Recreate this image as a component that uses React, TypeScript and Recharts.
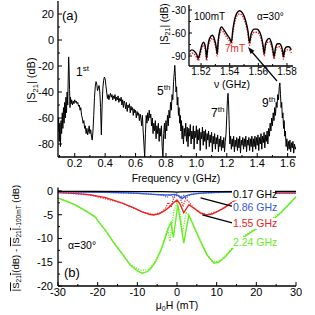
import React from 'react';
import { LineChart, Line, XAxis, YAxis, ReferenceLine } from 'recharts';

const FONT = '"Liberation Sans", Arial, Helvetica, sans-serif';

// ---------- Panel (a): |S21| spectrum [frequency GHz, dB] ----------
const spectrum: [number, number][] = [
  [0.090, -70], [0.094, -60], [0.098, -78], [0.102, -64], [0.106, -82], [0.110, -62], [0.114, -72], [0.118, -56],
  [0.122, -68], [0.126, -52], [0.130, -64], [0.134, -48], [0.138, -60], [0.142, -44], [0.146, -56], [0.150, -40],
  [0.154, -50], [0.157, -30], [0.160, -13], [0.163, -22], [0.166, -38], [0.169, -52], [0.172, -44], [0.176, -49],
  [0.180, -46], [0.185, -50], [0.190, -47], [0.195, -49], [0.200, -46], [0.205, -48], [0.210, -47], [0.215, -49],
  [0.220, -48], [0.225, -51], [0.230, -50], [0.235, -54], [0.240, -52], [0.245, -58], [0.250, -60], [0.255, -64],
  [0.260, -62], [0.265, -68], [0.270, -66], [0.275, -72], [0.280, -68], [0.285, -73], [0.290, -70], [0.295, -66],
  [0.300, -72], [0.305, -69], [0.310, -74], [0.315, -77], [0.320, -70], [0.325, -58], [0.330, -44], [0.335, -36],
  [0.340, -32], [0.345, -34], [0.350, -39], [0.355, -37], [0.360, -35], [0.365, -40], [0.370, -52], [0.375, -73],
  [0.380, -50], [0.385, -37], [0.390, -31], [0.395, -28.5], [0.400, -30], [0.405, -35], [0.410, -40], [0.415, -45],
  [0.420, -42], [0.425, -46], [0.430, -43], [0.435, -41], [0.440, -44], [0.445, -42], [0.450, -46], [0.455, -43],
  [0.460, -45], [0.465, -42], [0.470, -47], [0.475, -44], [0.480, -46], [0.485, -43], [0.490, -48], [0.495, -45],
  [0.500, -47], [0.505, -44], [0.510, -50], [0.515, -46], [0.520, -52], [0.525, -47], [0.530, -49], [0.535, -53],
  [0.540, -48], [0.545, -55], [0.550, -50], [0.555, -52], [0.560, -49], [0.565, -56], [0.570, -51], [0.575, -54],
  [0.580, -52], [0.585, -58], [0.590, -53], [0.595, -56], [0.600, -54], [0.605, -60], [0.610, -55], [0.615, -58],
  [0.620, -56], [0.625, -62], [0.630, -57], [0.635, -60], [0.640, -66], [0.645, -58], [0.650, -70], [0.655, -80],
  [0.660, -90], [0.665, -72], [0.670, -58], [0.675, -64], [0.680, -56], [0.685, -62], [0.690, -54], [0.695, -60],
  [0.700, -57], [0.705, -66], [0.710, -60], [0.715, -72], [0.720, -64], [0.725, -70], [0.730, -62], [0.735, -76],
  [0.740, -66], [0.745, -72], [0.750, -64], [0.755, -78], [0.760, -68], [0.765, -74], [0.770, -66], [0.775, -82],
  [0.780, -90], [0.785, -72], [0.790, -64], [0.795, -76], [0.800, -62], [0.805, -70], [0.810, -58], [0.815, -66],
  [0.820, -54], [0.825, -60], [0.830, -48], [0.835, -54], [0.840, -42], [0.845, -46], [0.850, -32], [0.854, -26],
  [0.858, -19.5], [0.862, -28], [0.866, -40], [0.870, -36], [0.874, -50], [0.878, -44], [0.882, -58], [0.886, -52],
  [0.890, -64], [0.894, -58], [0.898, -70], [0.902, -62], [0.906, -76], [0.910, -66], [0.915, -80], [0.920, -68],
  [0.925, -74], [0.930, -64], [0.935, -78], [0.940, -67], [0.945, -82], [0.950, -68], [0.955, -74], [0.960, -65],
  [0.965, -80], [0.970, -70], [0.975, -76], [0.980, -66], [0.985, -84], [0.990, -70], [0.995, -75], [1.000, -66],
  [1.005, -80], [1.010, -69], [1.015, -77], [1.020, -68], [1.025, -85], [1.030, -71], [1.035, -76], [1.040, -67],
  [1.045, -81], [1.050, -70], [1.055, -78], [1.060, -69], [1.065, -84], [1.070, -72], [1.075, -77], [1.080, -70],
  [1.085, -82], [1.090, -73], [1.095, -79], [1.100, -71], [1.105, -86], [1.110, -74], [1.115, -80], [1.120, -72],
  [1.125, -84], [1.130, -75], [1.135, -80], [1.140, -73], [1.145, -86], [1.150, -76], [1.155, -82], [1.160, -74],
  [1.165, -85], [1.170, -77], [1.175, -83], [1.180, -75], [1.185, -86], [1.190, -78], [1.195, -72], [1.200, -58],
  [1.204, -46], [1.208, -41], [1.212, -50], [1.216, -66], [1.220, -80], [1.225, -74], [1.230, -84], [1.235, -76],
  [1.240, -82], [1.245, -74], [1.250, -86], [1.255, -77], [1.260, -82], [1.265, -75], [1.270, -85], [1.275, -76],
  [1.280, -83], [1.285, -74], [1.290, -87], [1.295, -77], [1.300, -81], [1.305, -75], [1.310, -84], [1.315, -76],
  [1.320, -82], [1.325, -74], [1.330, -86], [1.335, -77], [1.340, -81], [1.345, -75], [1.350, -85], [1.355, -76],
  [1.360, -82], [1.365, -74], [1.370, -86], [1.375, -76], [1.380, -82], [1.385, -74], [1.390, -84], [1.395, -75],
  [1.400, -81], [1.405, -73], [1.410, -85], [1.415, -75], [1.420, -80], [1.425, -72], [1.430, -84], [1.435, -74],
  [1.440, -79], [1.445, -71], [1.450, -83], [1.455, -73], [1.460, -78], [1.465, -70], [1.470, -80], [1.475, -68],
  [1.480, -74], [1.485, -64], [1.490, -70], [1.495, -60], [1.500, -66], [1.505, -56], [1.510, -62], [1.515, -52],
  [1.520, -58], [1.525, -48], [1.530, -52], [1.535, -42], [1.540, -46], [1.545, -36], [1.549, -33], [1.553, -42],
  [1.557, -52], [1.561, -48], [1.565, -60], [1.569, -56], [1.573, -68], [1.577, -62], [1.581, -74], [1.585, -70],
  [1.590, -82], [1.595, -76], [1.600, -85], [1.605, -78], [1.610, -84], [1.615, -77], [1.620, -86], [1.625, -79],
  [1.630, -83], [1.635, -78], [1.640, -87], [1.645, -80], [1.650, -84], [1.655, -82],
];

// ---------- Inset: 9th harmonic zoom [GHz, dB] ----------
const inset100mT: [number, number][] = [
  [1.512, -84], [1.5136, -82], [1.5155, -84], [1.517, -88], [1.5181, -93], [1.5192, -86], [1.5205, -76], [1.5216, -72],
  [1.5228, -76], [1.5234, -84], [1.5239, -93], [1.5246, -80], [1.526, -67], [1.5278, -63], [1.5295, -69], [1.5305, -77],
  [1.5313, -87], [1.532, -70], [1.5332, -56], [1.5343, -52], [1.536, -56], [1.5385, -63], [1.54, -67], [1.5412, -72],
  [1.5422, -56], [1.5435, -42], [1.545, -34], [1.5469, -31], [1.549, -34], [1.551, -43], [1.5528, -58], [1.5538, -72],
  [1.555, -61], [1.5572, -55], [1.559, -55], [1.56, -56], [1.562, -64], [1.5633, -76], [1.5641, -87], [1.565, -74],
  [1.5665, -68], [1.5676, -67], [1.569, -72], [1.57, -80], [1.571, -91], [1.572, -79], [1.5735, -74], [1.575, -74],
  [1.5762, -78], [1.577, -84], [1.5775, -91], [1.5785, -81], [1.58, -78], [1.5814, -78], [1.583, -82],
];
const inset7mT: [number, number][] = [
  [1.512, -88], [1.5136, -86], [1.5155, -88], [1.517, -92], [1.5181, -96], [1.5192, -90], [1.5205, -80], [1.5216, -76],
  [1.5228, -80], [1.5234, -88], [1.5239, -96], [1.5246, -84], [1.526, -71], [1.5278, -67], [1.5295, -73], [1.5305, -81],
  [1.5313, -90], [1.532, -74], [1.5332, -60], [1.5343, -56], [1.536, -60], [1.5385, -67], [1.54, -71], [1.5412, -76],
  [1.5422, -60], [1.5435, -46], [1.545, -38], [1.5469, -35], [1.549, -38], [1.551, -47], [1.5528, -62], [1.5538, -76],
  [1.555, -65], [1.5572, -59], [1.559, -59], [1.56, -60], [1.562, -68], [1.5633, -80], [1.5641, -90], [1.565, -78],
  [1.5665, -72], [1.5676, -71], [1.569, -76], [1.57, -84], [1.571, -94], [1.572, -83], [1.5735, -78], [1.575, -78],
  [1.5762, -82], [1.577, -88], [1.5775, -94], [1.5785, -85], [1.58, -82], [1.5814, -82], [1.583, -86],
];

// ---------- Panel (b): field dependence [mT, dB] ----------
const curve017: [number, number][] = [
  [-30, -0.1], [-20, -0.1], [-10, -0.12], [-4, -0.15], [-1, -0.2], [0, -0.25], [1, -0.2], [4, -0.15], [10, -0.12], [20, -0.1], [30, -0.1],
];
const curve086: [number, number][] = [
  [-30, -0.2], [-24, -0.25], [-18, -0.3], [-13, -0.4], [-9.7, -0.5], [-6, -0.7], [-3, -0.85], [-1.5, -0.8], [-0.5, -0.7],
  [0.5, -1.0], [1.3, -1.6], [2.1, -1.1], [3, -0.8], [5, -0.55], [7.2, -0.4], [10, -0.3], [14, -0.25], [20, -0.2], [25, -0.2], [30, -0.2],
];
const curve086Dot: [number, number][] = [
  [-30, -0.2], [-18, -0.3], [-10, -0.5], [-6, -0.7], [-3.5, -0.9], [-2.5, -1.4], [-1.8, -0.7], [-1, -1.3], [0, -0.6],
  [0.8, -1.4], [1.6, -0.9], [2.4, -1.5], [3.3, -0.7], [5, -0.55], [8, -0.4], [14, -0.25], [30, -0.2],
];
const curve155: [number, number][] = [
  [-30, -0.35], [-25, -0.55], [-22, -0.8], [-18, -1.4], [-14, -2.5], [-11, -3.5], [-8.8, -4.4], [-7, -4.9], [-5.9, -5.05],
  [-4.5, -4.8], [-3, -4.1], [-2, -3.4], [-1, -2.6], [0, -1.9], [0.8, -2.8], [1.7, -4.6], [3, -2.9], [4.5, -3.8], [6, -4.7],
  [7.5, -5.05], [9, -4.8], [10.5, -4.2], [12, -3.5], [13.5, -2.6], [15, -1.8], [17, -1.1], [20, -0.6], [25, -0.45], [30, -0.45],
];
const curve155Dot: [number, number][] = [
  [-30, -0.35], [-22, -0.8], [-14, -2.5], [-8.8, -4.4], [-5.9, -5.0], [-4, -4.5], [-3, -3.8], [-2.2, -2.4], [-1.5, -3.4],
  [-0.8, -1.4], [0, -0.9], [0.8, -1.3], [1.5, -3.3], [2.2, -1.6], [3, -2.3], [4, -3.4], [6, -4.6], [7.5, -5.0], [10.5, -4.2],
  [15, -1.8], [20, -0.6], [30, -0.45],
];
const curve224: [number, number][] = [
  [-30, -1.5], [-28, -2.1], [-25.7, -2.95], [-23, -4.2], [-20.6, -5.5], [-19.8, -6.5], [-18, -8.3], [-16.1, -10.7],
  [-14.5, -12.5], [-13.5, -13.6], [-11.8, -15.6], [-10, -16.8], [-8.8, -17.3], [-7.5, -17.0], [-6.5, -16.2], [-5.4, -14.9],
  [-4, -12.4], [-3, -10], [-2.2, -7.8], [-1.5, -6.6], [-0.9, -9.8], [0.2, -2.9], [1.7, -11], [3.0, -5.1], [4.5, -8],
  [6, -10.8], [7.5, -13.4], [9.3, -15.2], [10.5, -15], [12, -14], [13.5, -12.6], [15, -11.2], [16.5, -9.9], [19, -8.5],
  [22, -7], [24.5, -5.8], [26.2, -4.6], [28, -3], [30, -1.2],
];
const curve224Dot: [number, number][] = [
  [-30, -1.5], [-25.7, -2.9], [-20.6, -5.4], [-16.1, -10.6], [-13.5, -13.5], [-11.8, -15.4], [-10, -16.4], [-8.8, -16.7],
  [-7.5, -16.6], [-6.5, -16], [-5.4, -14.7], [-4, -12.2], [-3, -9.6], [-2.3, -8.2], [-1.8, -10.6], [-0.8, -4.2], [0, -2.5],
  [0.8, -4.6], [1.4, -9], [2.3, -4.4], [3.3, -5.6], [4.5, -7.8], [6, -10.6], [7.5, -13.2], [9, -14.9], [10.5, -14.8],
  [12, -13.8], [13.5, -12.4], [16.5, -9.7], [19, -8.3], [22, -6.9], [26.2, -4.5], [30, -1.2],
];
const leader086: [number, number][] = [[5.95, -1.47], [14.3, -3.3]];
const leader155: [number, number][] = [[6.4, -5.05], [14.4, -6.8]];

// ---------- Ticks ----------
const aFreqTicks = [0.1, 0.2, 0.3, 0.4, 0.5, 0.6, 0.7, 0.8, 0.9, 1.0, 1.1, 1.2, 1.3, 1.4, 1.5, 1.6];
const aFreqMajor = [0.2, 0.4, 0.6, 0.8, 1.0, 1.2, 1.4, 1.6];
const aDbTicks = [-80, -70, -60, -50, -40, -30, -20, -10, 0, 10, 20];
const aDbMajor = [-80, -60, -40, -20, 0, 20];
const bFieldTicks = [-30, -25, -20, -15, -10, -5, 0, 5, 10, 15, 20, 25, 30];
const bFieldMajor = [-30, -20, -10, 0, 10, 20, 30];
const bDbTicks = [0, -2.5, -5, -7.5, -10, -12.5, -15, -17.5, -20];
const bDbMajor = [0, -5, -10, -15, -20];
const inFreqTicks = [1.52, 1.53, 1.54, 1.55, 1.56, 1.57, 1.58];
const inFreqMajor = [1.52, 1.54, 1.56, 1.58];
const inDbTicks = [-30, -45, -60, -75, -90];
const inDbMajor = [-30, -60, -90];

const rows = (pts: [number, number][]) => pts.map(([x, y]) => ({ x, y }));

type Side = 'bottom' | 'top' | 'left' | 'right';
function makeTick(side: Side, majors: number[], fmt: ((v: number) => string) | null, fontSize = 11, gap = 4, major = 4, minor = 2) {
  return (props: any) => {
    const { x, y, payload } = props;
    const v = Number(payload.value);
    const isMajor = majors.some((m) => Math.abs(m - v) < 1e-6);
    const len = isMajor ? major : minor;
    let x2 = x;
    let y2 = y;
    if (side === 'bottom') y2 = y - len;
    if (side === 'top') y2 = y + len;
    if (side === 'left') x2 = x + len;
    if (side === 'right') x2 = x - len;
    let label: React.ReactNode = null;
    if (fmt && isMajor) {
      if (side === 'bottom') {
        label = (
          <text x={x} y={y + gap} textAnchor="middle" fontSize={fontSize} fill="#000" fontFamily={FONT}>
            {fmt(v)}
          </text>
        );
      } else if (side === 'left') {
        label = (
          <text x={x - gap} y={y + fontSize * 0.36} textAnchor="end" fontSize={fontSize} fill="#000" fontFamily={FONT}>
            {fmt(v)}
          </text>
        );
      }
    }
    return (
      <g>
        <line x1={x} y1={y} x2={x2} y2={y2} stroke="#000" strokeWidth={1} />
        {label}
      </g>
    );
  };
}

const axisLine = { stroke: '#000', strokeWidth: 1.3 };

function PanelA() {
  const dom: [number, number] = [0.09, 1.655];
  const ydom: [number, number] = [-90, 30];
  return (
    <div style={{ position: 'absolute', left: 0, top: 0 }}>
      <LineChart width={315} height={190} data={rows(spectrum)} margin={{ top: 1, right: 19, bottom: 0, left: 0 }}>
        <XAxis xAxisId="b" dataKey="x" type="number" domain={dom} allowDataOverflow ticks={aFreqTicks} interval={0}
          tickSize={0} tickMargin={0} height={33} axisLine={axisLine} tickLine={false}
          tick={makeTick('bottom', aFreqMajor, (v) => v.toFixed(1), 11, 10)} />
        <XAxis xAxisId="t" orientation="top" dataKey="x" type="number" domain={dom} allowDataOverflow ticks={aFreqTicks} interval={0}
          tickSize={0} tickMargin={0} height={0} axisLine={axisLine} tickLine={false}
          tick={makeTick('top', aFreqMajor, null)} />
        <YAxis yAxisId="l" type="number" domain={ydom} allowDataOverflow ticks={aDbTicks} interval={0}
          tickSize={0} tickMargin={0} width={58} axisLine={axisLine} tickLine={false}
          tick={makeTick('left', aDbMajor, (v) => String(v), 11, 4)} />
        <YAxis yAxisId="r" orientation="right" type="number" domain={ydom} allowDataOverflow ticks={aDbTicks} interval={0}
          tickSize={0} tickMargin={0} width={0} axisLine={axisLine} tickLine={false}
          tick={makeTick('right', aDbMajor, null)} />
        <Line xAxisId="b" yAxisId="l" dataKey="y" type="linear" stroke="#000" strokeWidth={1} dot={false} isAnimationActive={false} />
      </LineChart>
    </div>
  );
}

function Inset() {
  const dom: [number, number] = [1.5116, 1.5842];
  const ydom: [number, number] = [-103, -23.5];
  return (
    <div style={{ position: 'absolute', left: 150, top: 0, width: 150, height: 90 }}>
      <div style={{ position: 'absolute', left: 39, top: 5, width: 104, height: 61, background: '#fff' }} />
      <div style={{ position: 'absolute', left: 0, top: 0 }}>
        <LineChart width={150} height={90} margin={{ top: 5, right: 7, bottom: 0, left: 0 }}>
          <XAxis xAxisId="b" dataKey="x" type="number" domain={dom} allowDataOverflow ticks={inFreqTicks} interval={0}
            tickSize={0} tickMargin={0} height={24} axisLine={axisLine} tickLine={false}
            tick={makeTick('bottom', inFreqMajor, (v) => v.toFixed(2), 10, 8.5, 3, 2)} />
          <XAxis xAxisId="t" orientation="top" dataKey="x" type="number" domain={dom} allowDataOverflow ticks={inFreqTicks} interval={0}
            tickSize={0} tickMargin={0} height={0} axisLine={axisLine} tickLine={false}
            tick={makeTick('top', inFreqMajor, null, 10, 4, 3, 2)} />
          <YAxis yAxisId="l" type="number" domain={ydom} allowDataOverflow ticks={inDbTicks} interval={0}
            tickSize={0} tickMargin={0} width={39} axisLine={axisLine} tickLine={false}
            tick={makeTick('left', inDbMajor, (v) => String(v), 10, 3, 3, 2)} />
          <YAxis yAxisId="r" orientation="right" type="number" domain={ydom} allowDataOverflow ticks={inDbTicks} interval={0}
            tickSize={0} tickMargin={0} width={0} axisLine={axisLine} tickLine={false}
            tick={makeTick('right', inDbMajor, null, 10, 4, 3, 2)} />
          <Line xAxisId="b" yAxisId="l" data={rows(inset7mT)} dataKey="y" type="monotone" stroke="#ee2222" strokeWidth={1.4}
            strokeDasharray="1.5 1.2" dot={false} isAnimationActive={false} />
          <Line xAxisId="b" yAxisId="l" data={rows(inset100mT)} dataKey="y" type="monotone" stroke="#000" strokeWidth={1.4}
            dot={false} isAnimationActive={false} />
        </LineChart>
      </div>
    </div>
  );
}

const BLUE = '#3358e0';
const RED = '#ee2424';
const GREEN = '#66ee22';

function PanelB() {
  const dom: [number, number] = [-30, 30];
  const ydom: [number, number] = [-20, 0.75];
  const seg = (p: [number, number][]) => p.map(([x, y]) => ({ x, y }));
  return (
    <div style={{ position: 'absolute', left: 0, top: 170 }}>
      <LineChart width={315} height={145} margin={{ top: 17.4, right: 19, bottom: 0, left: 0 }}>
        <XAxis xAxisId="b" dataKey="x" type="number" domain={dom} allowDataOverflow ticks={bFieldTicks} interval={0}
          tickSize={0} tickMargin={0} height={29} axisLine={axisLine} tickLine={false}
          tick={makeTick('bottom', bFieldMajor, (v) => String(v), 11, 10)} />
        <XAxis xAxisId="t" orientation="top" dataKey="x" type="number" domain={dom} allowDataOverflow ticks={bFieldTicks} interval={0}
          tickSize={0} tickMargin={0} height={0} axisLine={axisLine} tickLine={false}
          tick={makeTick('top', bFieldMajor, null)} />
        <YAxis yAxisId="l" type="number" domain={ydom} allowDataOverflow ticks={bDbTicks} interval={0}
          tickSize={0} tickMargin={0} width={58} axisLine={axisLine} tickLine={false}
          tick={makeTick('left', bDbMajor, (v) => String(v), 11, 5)} />
        <YAxis yAxisId="r" orientation="right" type="number" domain={ydom} allowDataOverflow ticks={bDbTicks} interval={0}
          tickSize={0} tickMargin={0} width={0} axisLine={axisLine} tickLine={false}
          tick={makeTick('right', bDbMajor, null)} />
        <Line xAxisId="b" yAxisId="l" data={rows(curve224Dot)} dataKey="y" stroke={GREEN} strokeWidth={1.3} strokeDasharray="1.2 1.3" dot={false} isAnimationActive={false} />
        <Line xAxisId="b" yAxisId="l" data={rows(curve155Dot)} dataKey="y" stroke={RED} strokeWidth={1.3} strokeDasharray="1.2 1.3" dot={false} isAnimationActive={false} />
        <Line xAxisId="b" yAxisId="l" data={rows(curve086Dot)} dataKey="y" stroke={BLUE} strokeWidth={1.2} strokeDasharray="1.2 1.3" dot={false} isAnimationActive={false} />
        <Line xAxisId="b" yAxisId="l" data={rows(curve224)} dataKey="y" stroke={GREEN} strokeWidth={1.4} dot={false} isAnimationActive={false} />
        <Line xAxisId="b" yAxisId="l" data={rows(curve155)} dataKey="y" stroke={RED} strokeWidth={1.4} dot={false} isAnimationActive={false} />
        <Line xAxisId="b" yAxisId="l" data={rows(curve086)} dataKey="y" stroke={BLUE} strokeWidth={1.3} dot={false} isAnimationActive={false} />
        <Line xAxisId="b" yAxisId="l" data={rows(curve017)} dataKey="y" stroke="#000" strokeWidth={1.3} dot={false} isAnimationActive={false} />
        <ReferenceLine xAxisId="b" yAxisId="l" segment={seg(leader086) as any} stroke="#000" strokeWidth={1.3} />
        <ReferenceLine xAxisId="b" yAxisId="l" segment={seg(leader155) as any} stroke="#000" strokeWidth={1.3} />
      </LineChart>
    </div>
  );
}

function Overlay() {
  const sup = { fontSize: 8 };
  const bLabels: { text: string; color: string; y: number }[] = [
    { text: '0.17 GHz', color: '#000', y: 198 },
    { text: '0.86 GHz', color: BLUE, y: 210.5 },
    { text: '1.55 GHz', color: RED, y: 226.5 },
    { text: '2.24 GHz', color: GREEN, y: 245.5 },
  ];
  return (
    <svg width={315} height={315} style={{ position: 'absolute', left: 0, top: 0, pointerEvents: 'none' }}>
      <g fontFamily={FONT} fill="#000">
        <text x={62} y={20} fontSize={13}>(a)</text>
        <text x={76} y={76} fontSize={12}>1<tspan {...sup} dy={-5}>st</tspan></text>
        <text x={157} y={95} fontSize={12}>5<tspan {...sup} dy={-5}>th</tspan></text>
        <text x={211} y={117} fontSize={12}>7<tspan {...sup} dy={-5}>th</tspan></text>
        <text x={262} y={107} fontSize={12}>9<tspan {...sup} dy={-5}>th</tspan></text>
        <text transform="translate(35,80) rotate(-90)" textAnchor="middle" fontSize={11}>
          |S<tspan fontSize={7.5} dy={2.5}>21</tspan><tspan dy={-2.5}>| (dB)</tspan>
        </text>
        <text x={176} y={182} textAnchor="middle" fontSize={10.5}>Frequency ν (GHz)</text>

        <text x={194} y={20} fontSize={10}>100mT</text>
        <text x={257} y={20} fontSize={10}>α=30°</text>
        <text x={225} y={52} fontSize={10} fill={RED}>7mT</text>
        <text transform="translate(168,24) rotate(-90)" textAnchor="middle" fontSize={10}>
          |S<tspan fontSize={7} dy={2}>21</tspan><tspan dy={-2}>| (dB)</tspan>
        </text>
        <text x={232} y={87.5} textAnchor="middle" fontSize={10.5}>ν (GHz)</text>
        <line x1={277} y1={81} x2={252} y2={52} stroke="#000" strokeWidth={1.2} />
        <polygon points="248,47 254.4,50.7 250.6,53.9" fill="#000" />

        {bLabels.map((l) => (
          <g key={l.text}>
            <rect x={232} y={l.y - 8.5} width={43} height={11} fill="#fff" />
            <text x={233} y={l.y} fontSize={10.5} fill={l.color}>{l.text}</text>
          </g>
        ))}
        <text x={68} y={249} fontSize={10.5}>α=30°</text>
        <text x={64} y={277} fontSize={13}>(b)</text>
        <text x={177} y={308.5} textAnchor="middle" fontSize={10.5}>
          μ<tspan fontSize={7} dy={2}>0</tspan><tspan dy={-2}>H (mT)</tspan>
        </text>
        <text transform="translate(19,238) rotate(-90)" textAnchor="middle" fontSize={9.5}>
          <tspan style={{ textDecoration: 'overline' }}>|S</tspan><tspan fontSize={6.5} dy={2}>21</tspan>
          <tspan dy={-2} style={{ textDecoration: 'overline' }}>|</tspan><tspan>(dB) - </tspan>
          <tspan style={{ textDecoration: 'overline' }}>|S</tspan><tspan fontSize={6.5} dy={2}>21</tspan>
          <tspan dy={-2} style={{ textDecoration: 'overline' }}>|</tspan><tspan fontSize={6.5} dy={2}>-100mT</tspan>
          <tspan dy={-2}> (dB)</tspan>
        </text>
      </g>
    </svg>
  );
}

export default function App() {
  return (
    <div style={{ position: 'absolute', left: 0, top: 0, width: 315, height: 315, background: '#fff' }}>
      <PanelA />
      <Inset />
      <PanelB />
      <Overlay />
    </div>
  );
}
